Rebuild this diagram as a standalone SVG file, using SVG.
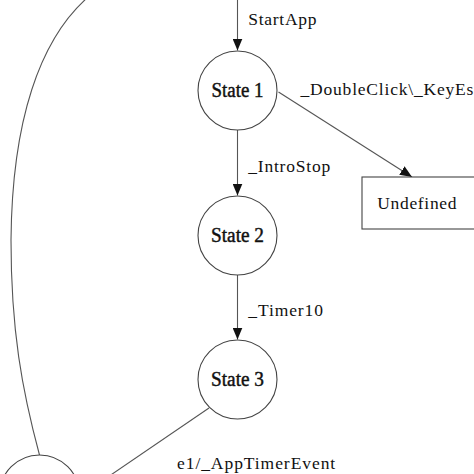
<svg xmlns="http://www.w3.org/2000/svg" width="474" height="474" viewBox="0 0 474 474">
<style>
.bg{fill:#ffffff}
.node{fill:#ffffff;stroke:#444444;stroke-width:1.1}
.edge{fill:none;stroke:#555555;stroke-width:1.1}
.lbl{font-family:"Liberation Serif","Times New Roman",serif;font-size:17.5px;fill:#111111;letter-spacing:0.8px}
.st{font-family:"Liberation Serif","Times New Roman",serif;font-size:20px;fill:#111111;stroke:#111111;stroke-width:0.45;text-anchor:middle}
</style>
<defs>
<marker id="arr" viewBox="0 0 12 10" refX="12" refY="5" markerWidth="12" markerHeight="10" markerUnits="userSpaceOnUse" orient="auto">
<path d="M0,0 L12,5 L0,10 z" fill="#111111"/>
</marker>
</defs>
<rect class="bg" x="0" y="0" width="474" height="474"/>
<g id="connectors">
<path class="edge" d="M237.5,-2 L237.5,50.5" marker-end="url(#arr)"/>
<path class="edge" d="M237.5,130 L237.5,195.5" marker-end="url(#arr)"/>
<path class="edge" d="M237.5,275 L237.5,339.5" marker-end="url(#arr)"/>
<path class="edge" d="M278.5,92 L412,177" marker-end="url(#arr)"/>
<path class="edge" d="M209,408 L80,496"/>
<path class="edge" d="M87,-2 C40,40 12,120 11,240 C11,330 22,390 39.5,455"/>
<text class="lbl" x="248.3" y="25" textLength="69">StartApp</text>
<text class="lbl" x="300.5" y="95">_DoubleClick\_KeyEsc</text>
<text class="lbl" x="248.3" y="171.7" textLength="82.7">_IntroStop</text>
<text class="lbl" x="248.3" y="316" textLength="75.5">_Timer10</text>
<text class="lbl" x="177" y="469.3" textLength="159">e1/_AppTimerEvent</text>
</g>
<g id="state1">
<circle class="node" cx="237.5" cy="90.5" r="39.5"/>
<text class="st" x="237.5" y="97" textLength="52" lengthAdjust="spacingAndGlyphs">State 1</text>
</g>
<g id="state2">
<circle class="node" cx="237.5" cy="235.5" r="39.5"/>
<text class="st" x="237.5" y="242.3" textLength="53" lengthAdjust="spacingAndGlyphs">State 2</text>
</g>
<g id="state3">
<circle class="node" cx="237.5" cy="379.5" r="39.5"/>
<text class="st" x="237.5" y="386" textLength="53" lengthAdjust="spacingAndGlyphs">State 3</text>
</g>
<g id="undefined">
<rect class="node" x="362" y="177" width="120" height="52"/>
<text class="lbl" x="377.3" y="209" textLength="80">Undefined</text>
</g>
<g id="state4">
<circle class="node" cx="39.5" cy="495" r="40"/>
</g>
</svg>
